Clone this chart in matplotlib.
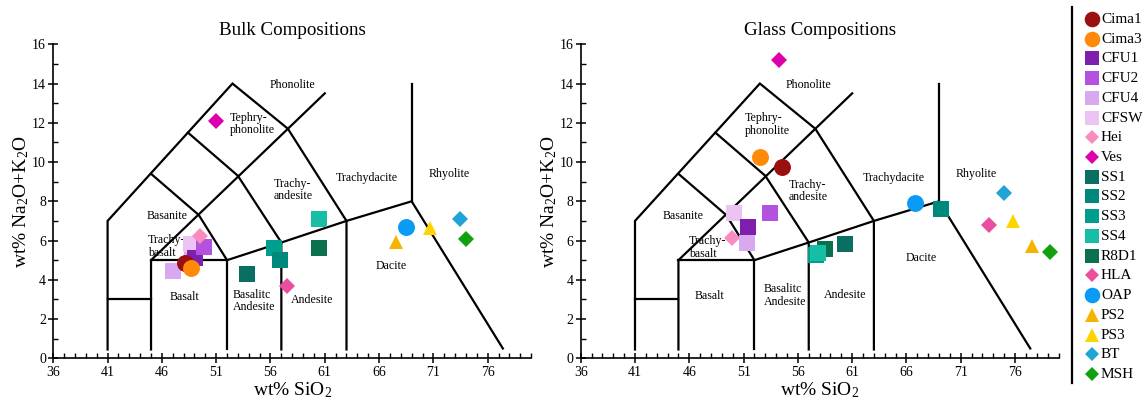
import matplotlib
matplotlib.use('Agg')
import matplotlib.pyplot as plt
from matplotlib.ticker import MultipleLocator

plt.rcParams['font.family'] = ['Liberation Serif', 'DejaVu Serif']
plt.rcParams['mathtext.fontset'] = 'custom'
plt.rcParams['mathtext.rm'] = 'Liberation Serif'
plt.rcParams['mathtext.it'] = 'Liberation Serif:italic'

SAMPLES = ['Cima1', 'Cima3', 'CFU1', 'CFU2', 'CFU4', 'CFSW', 'Hei', 'Ves',
           'SS1', 'SS2', 'SS3', 'SS4', 'R8D1', 'HLA', 'OAP', 'PS2', 'PS3',
           'BT', 'MSH']
MARKERS = ['o', 'o', 's', 's', 's', 's', 'D', 'D',
           's', 's', 's', 's', 's', 'D', 'o', '^', '^', 'D', 'D']
COLORS = ['#9a1010', '#ff8a0a', '#7e1fae', '#b452e0', '#d9a9f0', '#ecc4f4',
          '#f98cbf', '#dd00ac', '#0b6e62', '#00897b', '#009e8e', '#16bea6',
          '#0a7050', '#e94e9f', '#0a9cf5', '#f5b400', '#ffd500', '#20a4d6',
          '#10a010']

# Bulk compositions (one entry per plotted point)
BULK_SAMPLE = ['CFU4', 'CFU4', 'CFSW', 'CFU1', 'CFU2', 'Hei', 'Ves', 'SS1',
               'SS3', 'SS2', 'SS4', 'R8D1', 'HLA', 'OAP', 'PS2', 'PS3', 'BT',
               'MSH', 'Cima1', 'Cima3']
BULK_SIO2 = [46.99, 48.74, 48.65, 49.05, 49.88, 49.51, 50.98, 53.81,
             56.35, 56.87, 60.47, 60.47, 57.49, 68.48, 67.56, 70.69, 73.45,
             74.0, 48.13, 48.65]
BULK_ALK = [4.46, 5.43, 5.82, 5.09, 5.69, 6.25, 12.11, 4.28,
            5.64, 5.01, 7.08, 5.60, 3.68, 6.71, 5.94, 6.62, 7.10,
            6.08, 4.84, 4.59]

# Glass compositions
GLASS_SAMPLE = ['R8D1', 'CFU4', 'CFSW', 'CFU1', 'CFU2', 'Hei', 'Ves', 'SS1',
                'SS2', 'SS3', 'SS4', 'HLA', 'OAP', 'PS2', 'PS3', 'BT', 'MSH',
                'Cima1', 'Cima3']
GLASS_SIO2 = [58.5, 51.34, 50.16, 51.41, 53.45, 49.89, 54.24, 60.34,
              69.18, 57.7, 57.85, 73.6, 66.78, 77.55, 75.77, 75.01, 79.26,
              54.5, 52.53]
GLASS_ALK = [5.55, 5.89, 7.40, 6.67, 7.41, 6.11, 15.2, 5.81,
             7.60, 5.25, 5.35, 6.79, 7.89, 5.70, 7.00, 8.40, 5.40,
             9.77, 10.28]

# TAS field boundaries
TAS_LINES = [
    [(41, 0.45), (41, 7), (52.5, 14), (57.6, 11.7), (63, 7), (63, 0.45)],
    [(41, 3), (45, 3)],
    [(45, 0.45), (45, 5), (61, 13.5)],
    [(45, 5), (52, 5), (52, 0.45)],
    [(45, 9.4), (49.4, 7.3), (52, 5), (57, 5.9), (63, 7), (69, 8),
     (77.4, 0.5)],
    [(48.4, 11.5), (53, 9.3), (57, 5.9), (57, 0.45)],
    [(69, 8), (69, 14)],
]

FIELD_NAMES = ['Phonolite', 'Tephry-\nphonolite', 'Basanite',
               'Trachy-\nbasalt', 'Basalt', 'Basalitc\nAndesite', 'Andesite',
               'Trachy-\nandesite', 'Trachydacite', 'Rhyolite', 'Dacite']
BULK_FIELD_X = [55.89, 52.21, 44.6, 44.69, 46.75, 52.52, 57.86, 56.26,
                62.03, 70.53, 65.71]
BULK_FIELD_Y = [13.93, 11.95, 7.25, 5.69, 3.11, 2.91, 2.97, 8.58,
                9.17, 9.37, 4.70]
GLASS_FIELD_X = [54.86, 51.14, 43.57, 45.98, 46.47, 52.86, 58.39, 55.19,
                 61.94, 70.5, 65.89]
GLASS_FIELD_Y = [13.91, 11.91, 7.26, 5.65, 3.16, 3.21, 3.22, 8.53,
                 9.21, 9.38, 5.12]

MSIZE = {'o': 12.2, 's': 11.2, 'D': 7.8, '^': 10.3}

W, H = 1148, 404


def style_marker(name):
    i = SAMPLES.index(name)
    m = MARKERS[i]
    return dict(marker=m, color=COLORS[i], markersize=MSIZE[m],
                markeredgewidth=0, linestyle='none')


def tas_axes(ax, title, xs, ys, names, fx, fy):
    for seg in TAS_LINES:
        ax.plot([p[0] for p in seg], [p[1] for p in seg], color='black',
                lw=1.6, solid_joinstyle='miter', zorder=2)
    for name, x, y in zip(FIELD_NAMES, fx, fy):
        ax.text(x, y, name, fontsize=8.6, ha='left', va='center',
                linespacing=1.05, zorder=1)
    for name, x, y in zip(names, xs, ys):
        z = 5 if name.startswith('Cima') else 4
        ax.plot(x, y, zorder=z, **style_marker(name))

    ax.set_xlim(36, 80)
    ax.set_ylim(0, 16)
    ax.xaxis.set_major_locator(MultipleLocator(5))
    ax.xaxis.set_minor_locator(MultipleLocator(1))
    ax.yaxis.set_major_locator(MultipleLocator(2))
    ax.yaxis.set_minor_locator(MultipleLocator(1))
    ax.set_xticks(range(36, 80, 5))
    ax.tick_params(which='major', direction='inout', length=6.5, width=1.1,
                   labelsize=10, pad=2)
    ax.tick_params(which='minor', direction='in', length=3.5, width=1.0)
    for s in ['top', 'right']:
        ax.spines[s].set_visible(False)
    for s in ['left', 'bottom']:
        ax.spines[s].set_linewidth(1.2)
    ax.set_title(title, fontsize=13.7, pad=7)
    ax.set_xlabel('wt% SiO$_{\\mathrm{2}}$', fontsize=14, labelpad=1)
    ax.set_ylabel('wt% Na$_{\\mathrm{2}}$O+K$_{\\mathrm{2}}$O', fontsize=14,
                  labelpad=0.5)


fig = plt.figure(figsize=(W / 100, H / 100), dpi=100)
ax1 = fig.add_axes([53.3 / W, 45.7 / H, 477.8 / W, 314 / H])
ax2 = fig.add_axes([580.7 / W, 45.7 / H, 477.8 / W, 314 / H])

tas_axes(ax1, 'Bulk Compositions', BULK_SIO2, BULK_ALK, BULK_SAMPLE,
         BULK_FIELD_X, BULK_FIELD_Y)
tas_axes(ax2, 'Glass Compositions', GLASS_SIO2, GLASS_ALK, GLASS_SAMPLE,
         GLASS_FIELD_X, GLASS_FIELD_Y)

# legend on the right, with a separator line
lax = fig.add_axes([0, 0, 1, 1])
lax.set_xlim(0, W)
lax.set_ylim(H, 0)
lax.axis('off')
lax.plot([1072, 1072], [7, 383], color='black', lw=1.6)
row0, step = 19, 19.72
for i, name in enumerate(SAMPLES):
    y = row0 + i * step
    st = style_marker(name)
    st['markersize'] = st['markersize'] * 0.92
    lax.plot(1092, y, **st)
    lax.text(1101, y + 0.5, name, fontsize=11, ha='left', va='center')

fig.savefig('out.png', dpi=100)
